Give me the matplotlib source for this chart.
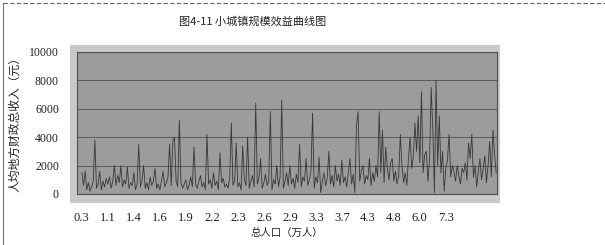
import matplotlib
matplotlib.use('Agg')
import matplotlib.pyplot as plt
from matplotlib.patches import Rectangle
from matplotlib.lines import Line2D
import numpy as np

plt.rcParams['font.family'] = ['Noto Sans CJK SC', 'DejaVu Sans']

title = '图4-11 小城镇规模效益曲线图'
xlabel = '总人口（万人）'
ylabel = '人均地方财政总收入（元）'

# tick labels shown every 16 towns
tick_labels = ['0.3', '1.1', '1.4', '1.6', '1.9', '2.2', '2.3', '2.6',
               '2.9', '3.3', '3.7', '4.3', '4.8', '6.0', '7.3']
tick_step = 16

# per-capita revenue, towns sorted by population
revenue = [
    1500, 600, 1600, 300, 800, 200, 500, 900, 3800, 400, 700, 1600, 300, 900, 500, 1100,
    700, 1200, 400, 900, 2000, 600, 1300, 800, 2000, 500, 1000, 700, 1900, 400, 800, 600,
    1500, 300, 700, 3500, 500, 900, 2000, 400, 800, 300, 1200, 600, 900, 1800, 400, 700,
    300, 900, 1600, 500, 800, 1200, 3500, 600, 3700, 4000, 900, 500, 5200, 800, 400, 700,
    1000, 300, 600, 1200, 500, 3300, 700, 400, 900, 1300, 500, 800, 300, 4200, 700, 1000,
    400, 1500, 600, 900, 300, 2900, 800, 1100, 500, 700, 400, 1200, 5000, 600, 900, 3600,
    500, 800, 300, 3400, 1000, 600, 4000, 400, 900, 1300, 500, 6400, 700, 1100, 2500, 400,
    800, 1400, 600, 900, 5800, 300, 1000, 700, 2000, 500, 1200, 6600, 400, 900, 1500, 600,
    2000, 700, 1100, 400, 1400, 800, 3500, 500, 1200, 900, 2500, 600, 1000, 1600, 5700, 400,
    1200, 800, 2600, 100, 900, 1500, 600, 1100, 3000, 700, 1300, 500, 2000, 900, 1400, 600,
    2400, 800, 1200, 500, 1500, 2500, 700, 1400, 100, 4800, 5800, 900, 1600, 2000, 700, 1300,
    1000, 2500, 600, 1500, 900, 2000, 1200, 5800, 1500, 4500, 800, 3300, 1800, 1000, 2200, 2500,
    900, 1600, 700, 1300, 4200, 2000, 800, 1500, 600, 2500, 4000, 1800, 2600, 5000, 3000, 5500,
    2200, 7200, 1500, 2800, 3000, 900, 2500, 7500, 4500, 100, 8000, 2000, 5500, 1500, 3000, 200,
    1800, 2400, 4200, 1200, 2000, 1600, 900, 2000, 1300, 700, 1800, 1500, 2200, 1000, 3600, 2500,
    4200, 1200, 2000, 500, 1600, 2500, 1000, 1800, 2700, 800, 2000, 3700, 1200, 4500, 2800, 1500,
]

W, H = 605, 245
fig = plt.figure(figsize=(W / 100, H / 100), dpi=100)

# scan frame lines
fig.add_artist(Line2D([3 / W, 1], [1 - 3 / H, 1 - 3 / H], color='#666666', lw=0.8, ls=(0, (4, 2))))
fig.add_artist(Line2D([3 / W, 3 / W], [0, 1 - 3 / H], color='#777777', lw=0.8))

# outer chart area (light gray)
fig.add_artist(Rectangle((70 / W, 1 - 203 / H), 430 / W, 158 / H,
                         transform=fig.transFigure, facecolor='#c9c9c9',
                         edgecolor='none', zorder=0))

ax = fig.add_axes([77 / W, 1 - 194 / H, 420 / W, 142 / H])
ax.set_facecolor('#9c9c9c')

x = np.arange(len(revenue))
ax.plot(x, revenue, color='#383838', lw=0.6)

ax.set_ylim(0, 10000)
ax.set_xlim(-3, len(revenue) - 0.5)
ax.set_yticks(range(0, 10001, 2000))
ax.set_xticks(np.arange(len(tick_labels)) * tick_step)
ax.set_xticklabels(tick_labels)
ax.tick_params(length=0)
ax.tick_params(axis='y', pad=13)
ax.tick_params(axis='x', pad=13)
for lab in ax.get_yticklabels():
    lab.set_fontfamily('Liberation Serif')
    lab.set_fontsize(8.5)
    lab.set_color('#222222')
for lab in ax.get_xticklabels():
    lab.set_fontfamily('Liberation Serif')
    lab.set_fontsize(9)
    lab.set_color('#222222')

ax.grid(True, axis='y', color='#5a5a5a', lw=0.7)
ax.set_axisbelow(True)
for s in ax.spines.values():
    s.set_color('#505050')
    s.set_linewidth(0.8)

fig.text(253 / W, 1 - 21 / H, title, ha='center', va='center', fontsize=8, color='#222222')
fig.text(287 / W, 1 - 233 / H, xlabel, ha='center', va='center', fontsize=7.5, color='#222222')
fig.text(15 / W, 1 - 121 / H, ylabel, ha='center', va='center', rotation=90,
         fontsize=8.5, color='#222222')

fig.savefig('out.png', dpi=100)
